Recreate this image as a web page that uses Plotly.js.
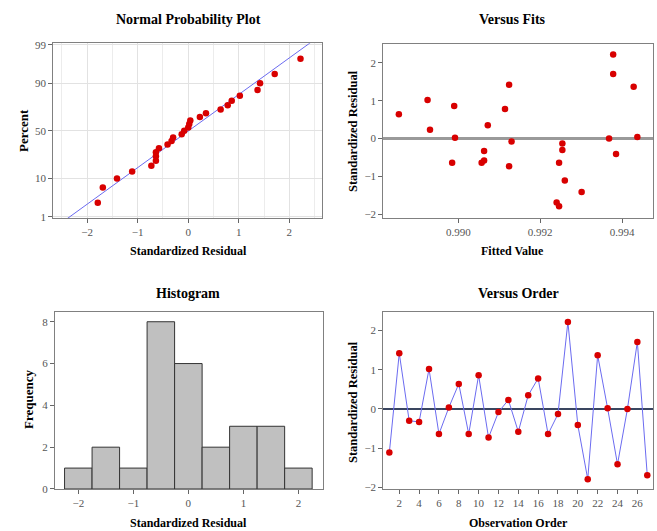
<!DOCTYPE html>
<html><head><meta charset="utf-8">
<script src="https://cdn.plot.ly/plotly-3.0.1.min.js"></script>
<style>html,body{margin:0;padding:0;background:#fff}#chart{width:657px;height:531px}</style>
</head><body><div id="chart"></div>
<script>
// Observation order
const order = [1,2,3,4,5,6,7,8,9,10,11,12,13,14,15,16,17,18,19,20,21,22,23,24,25,26,27];
// Standardized residuals in observation order
const residuals = [-1.11,1.42,-0.30,-0.33,1.02,-0.64,0.04,0.64,-0.64,0.86,-0.73,-0.08,0.23,-0.58,0.35,0.78,-0.64,-0.13,2.22,-0.41,-1.79,1.37,0.02,-1.41,0.00,1.71,-1.69];
// Fitted values in observation order
const fitted = [0.99260,0.99124,0.99254,0.99063,0.98925,0.98985,0.99437,0.98855,0.99057,0.98990,0.99124,0.99130,0.98931,0.99063,0.99072,0.99114,0.99246,0.99254,0.99378,0.99385,0.99246,0.99428,0.98992,0.99301,0.99368,0.99378,0.99240];
// Probability scale tick labels (percent)
const pctTicks = [1,10,50,90,99];
const histTicks = [0,2,4,6,8];

function invNorm(p){
  const a=[-3.969683028665376e+01,2.209460984245205e+02,-2.759285104469687e+02,1.383577518672690e+02,-3.066479806614716e+01,2.506628277459239e+00];
  const b=[-5.447609879822406e+01,1.615858368580409e+02,-1.556989798598866e+02,6.680131188771972e+01,-1.328068155288572e+01];
  const c=[-7.784894002430293e-03,-3.223964580411365e-01,-2.400758277161838e+00,-2.549732539343734e+00,4.374664141464968e+00,2.938163982698783e+00];
  const d=[7.784695709041462e-03,3.224671290700398e-01,2.445134137142996e+00,3.754408661907416e+00];
  const pl=0.02425, ph=1-pl; let q,r;
  if(p<pl){q=Math.sqrt(-2*Math.log(p));return (((((c[0]*q+c[1])*q+c[2])*q+c[3])*q+c[4])*q+c[5])/((((d[0]*q+d[1])*q+d[2])*q+d[3])*q+1);}
  if(p<=ph){q=p-0.5;r=q*q;return (((((a[0]*r+a[1])*r+a[2])*r+a[3])*r+a[4])*r+a[5])*q/(((((b[0]*r+b[1])*r+b[2])*r+b[3])*r+b[4])*r+1);}
  q=Math.sqrt(-2*Math.log(1-p));return -(((((c[0]*q+c[1])*q+c[2])*q+c[3])*q+c[4])*q+c[5])/((((d[0]*q+d[1])*q+d[2])*q+d[3])*q+1);
}

const n = residuals.length;
const sorted = residuals.slice().sort((a,b)=>a-b);
const zScores = sorted.map((v,i)=>invNorm((i+1-0.3)/(n+0.4)));
const mean = residuals.reduce((s,v)=>s+v,0)/n;
const sd = Math.sqrt(residuals.reduce((s,v)=>s+(v-mean)*(v-mean),0)/(n-1));
const lineZ = [-2.5, 2.5];
const lineX = lineZ.map(z=>mean+z*sd);

const FONT = 'Liberation Serif, Times New Roman, serif';
const red = '#d80000';
const mk = {color:red, size:6.5};

const baseAxis = {
  showline:true, mirror:true, linecolor:'#808080', linewidth:1,
  ticks:'outside', ticklen:4, tickcolor:'#666', tickwidth:1,
  tickfont:{family:FONT, size:11, color:'#555'},
  showgrid:false, zeroline:false, fixedrange:true
};
function ax(o){return Object.assign({}, baseAxis, o);}

const traces = [
  {type:'scatter', mode:'lines', x:lineX, y:lineZ, xaxis:'x', yaxis:'y', line:{color:'#6b6bf0', width:1}, cliponaxis:true, hoverinfo:'skip'},
  {type:'scatter', mode:'markers', x:sorted, y:zScores, xaxis:'x', yaxis:'y', marker:mk},
  {type:'scatter', mode:'markers', x:fitted, y:residuals, xaxis:'x2', yaxis:'y2', marker:mk},
  {type:'histogram', x:residuals, xaxis:'x3', yaxis:'y3', xbins:{start:-2.25, end:2.25, size:0.5}, autobinx:false,
    marker:{color:'#c0c0c0', line:{color:'#333', width:1}}},
  {type:'scatter', mode:'lines+markers', x:order, y:residuals, xaxis:'x4', yaxis:'y4',
    line:{color:'#6b6bf0', width:1}, marker:mk}
];

const ann = (text, x, y, size, bold, angle) => ({
  text: bold ? '<b>'+text+'</b>' : text, x:x/657, y:1-y/531, xref:'paper', yref:'paper',
  showarrow:false, xanchor:'center', yanchor:'middle', textangle:angle||0,
  font:{family:FONT, size:size, color:'#000'}
});

const layout = {
  width:657, height:531, margin:{l:0,r:0,t:0,b:0},
  paper_bgcolor:'#fff', plot_bgcolor:'#fff', showlegend:false, bargap:0,
  font:{family:FONT},
  xaxis: ax({domain:[0.0811,0.4897], anchor:'y', range:[-2.67,2.64], tickvals:[-2,-1,0,1,2],
    showgrid:true, gridcolor:'#e2e2e2', gridwidth:1,
    minor:{dtick:0.5, tick0:0, showgrid:true, gridcolor:'#ececec', ticks:''}}),
  yaxis: ax({domain:[0.5889,0.9185], anchor:'x', range:[-2.37,2.37],
    tickvals:pctTicks.map(p=>invNorm(p/100)), ticktext:pctTicks.map(String),
    showgrid:true, gridcolor:'#e2e2e2'}),
  xaxis2: ax({domain:[0.5834,0.9944], anchor:'y2', range:[0.98817,0.99476], tickvals:[0.990,0.992,0.994], tickformat:'.3f'}),
  yaxis2: ax({domain:[0.5895,0.9171], anchor:'x2', range:[-2.1,2.5], tickvals:[-2,-1,0,1,2],
    zeroline:true, zerolinecolor:'#9a9a9a', zerolinewidth:2.5}),
  xaxis3: ax({domain:[0.0837,0.4912], anchor:'y3', range:[-2.424,2.442], tickvals:[-2,-1,0,1,2]}),
  yaxis3: ax({domain:[0.0791,0.4130], anchor:'x3', range:[0,8.48], tickvals:histTicks}),
  xaxis4: ax({domain:[0.5834,0.9944], anchor:'y4', range:[0.39,27.61], tickvals:[2,4,6,8,10,12,14,16,18,20,22,24,26]}),
  yaxis4: ax({domain:[0.0791,0.4130], anchor:'x4', range:[-2.04,2.48], tickvals:[-2,-1,0,1,2],
    zeroline:true, zerolinecolor:'#3a4660', zerolinewidth:1.2}),
  annotations:[
    ann('Normal Probability Plot',188,20,14,true),
    ann('Versus Fits',512,20,14,true),
    ann('Histogram',188,293,14,true),
    ann('Versus Order',518,293,14,true),
    ann('Standardized Residual',188,251,12,true),
    ann('Fitted Value',512,251,12,true),
    ann('Standardized Residual',188,523,12,true),
    ann('Observation Order',518,523,12,true),
    ann('Percent',23,131,13,true,-90),
    ann('Standardized Residual',353,131,12.5,true,-90),
    ann('Frequency',28,400,13,true,-90),
    ann('Standardized Residual',353,402,12.5,true,-90)
  ]
};

Plotly.newPlot('chart', traces, layout, {staticPlot:true, displayModeBar:false});
</script></body></html>
